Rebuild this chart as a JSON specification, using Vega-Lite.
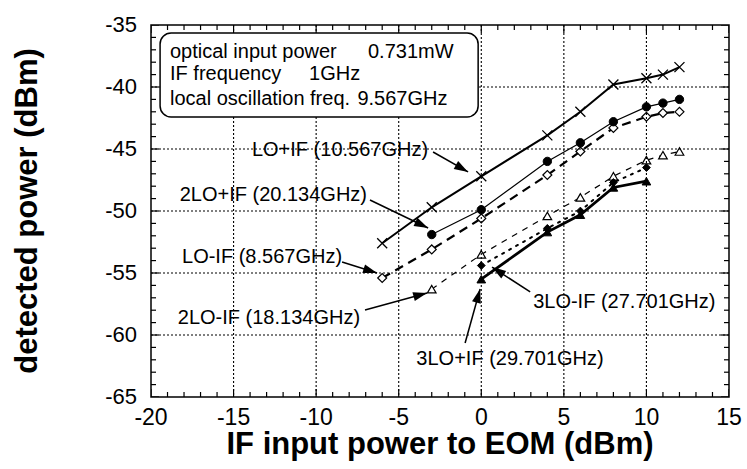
{
"$schema": "https://vega.github.io/schema/vega-lite/v6.json",
"width": 578, "height": 372,
"autosize": {"type": "none"},
"padding": {"left": 151, "top": 25, "right": 18, "bottom": 72},
"background": "white",
"config": {"view": {"stroke": "black", "strokeWidth": 1.5}, "font": "Liberation Sans"},
"datasets": {
"pts": [
{"s":"LO+IF","x":-6,"y":-52.6},{"s":"LO+IF","x":-3,"y":-49.7},{"s":"LO+IF","x":0,"y":-47.2},{"s":"LO+IF","x":4,"y":-43.9},{"s":"LO+IF","x":6,"y":-42.0},{"s":"LO+IF","x":8,"y":-39.8},{"s":"LO+IF","x":10,"y":-39.3},{"s":"LO+IF","x":11,"y":-39.0},{"s":"LO+IF","x":12,"y":-38.4},
{"s":"2LO+IF","x":-3,"y":-51.9},{"s":"2LO+IF","x":0,"y":-49.9},{"s":"2LO+IF","x":4,"y":-46.0},{"s":"2LO+IF","x":6,"y":-44.5},{"s":"2LO+IF","x":8,"y":-42.8},{"s":"2LO+IF","x":10,"y":-41.6},{"s":"2LO+IF","x":11,"y":-41.3},{"s":"2LO+IF","x":12,"y":-41.0},
{"s":"LO-IF","x":-6,"y":-55.4},{"s":"LO-IF","x":-3,"y":-53.1},{"s":"LO-IF","x":0,"y":-50.6},{"s":"LO-IF","x":4,"y":-47.1},{"s":"LO-IF","x":6,"y":-45.2},{"s":"LO-IF","x":8,"y":-43.3},{"s":"LO-IF","x":10,"y":-42.4},{"s":"LO-IF","x":11,"y":-42.1},{"s":"LO-IF","x":12,"y":-42.0},
{"s":"2LO-IF","x":-3,"y":-56.3},{"s":"2LO-IF","x":0,"y":-53.5},{"s":"2LO-IF","x":4,"y":-50.4},{"s":"2LO-IF","x":6,"y":-48.9},{"s":"2LO-IF","x":8,"y":-47.2},{"s":"2LO-IF","x":10,"y":-45.9},{"s":"2LO-IF","x":11,"y":-45.5},{"s":"2LO-IF","x":12,"y":-45.2},
{"s":"3LO+IF","x":0,"y":-54.4},{"s":"3LO+IF","x":4,"y":-51.4},{"s":"3LO+IF","x":6,"y":-50.0},{"s":"3LO+IF","x":8,"y":-47.7},{"s":"3LO+IF","x":10,"y":-46.5},
{"s":"3LO-IF","x":0,"y":-55.5},{"s":"3LO-IF","x":4,"y":-51.7},{"s":"3LO-IF","x":6,"y":-50.3},{"s":"3LO-IF","x":8,"y":-48.1},{"s":"3LO-IF","x":10,"y":-47.6}
],
"labels": [
{"label":"LO+IF (10.567GHz)","x":-3.22,"y":-45.08},
{"label":"2LO+IF (20.134GHz)","x":-6.92,"y":-48.71},
{"label":"LO-IF (8.567GHz)","x":-8.43,"y":-53.71},
{"label":"2LO-IF (18.134GHz)","x":-7.34,"y":-58.63},
{"label":"3LO-IF (27.701GHz)","x":3.14,"y":-57.34},
{"label":"3LO+IF (29.701GHz)","x":1.74,"y":-61.94}
],
"arrows": [
{"a":"LO+IF","x":-2.92,"y":-45.24,"x2":-0.80,"y2":-46.85},
{"a":"2LO+IF","x":-6.74,"y":-49.11,"x2":-3.22,"y2":-51.37},
{"a":"LO-IF","x":-8.43,"y":-54.11,"x2":-6.31,"y2":-55.0},
{"a":"2LO-IF","x":-7.04,"y":-57.98,"x2":-3.28,"y2":-56.61},
{"a":"3LO-IF","x":2.96,"y":-56.53,"x2":0.65,"y2":-54.52},
{"a":"3LO+IF","x":-0.98,"y":-60.65,"x2":-0.07,"y2":-56.29}
],
"boxtext": [
{"t":"optical input power","x":-18.85,"y":-37.15},{"t":"0.731mW","x":-6.86,"y":-37.15},
{"t":"IF frequency","x":-18.85,"y":-38.95},{"t":"1GHz","x":-10.43,"y":-38.95},
{"t":"local oscillation freq.","x":-18.85,"y":-40.97},{"t":"9.567GHz","x":-7.5,"y":-40.97}
],
"box": [{"x":-19.45,"x2":-0.19,"y":-35.65,"y2":-42.42}],
"titles": [{"xt":"IF input power to EOM (dBm)","yt":"detected power (dBm)"}],
"majx": [{"v":-20,"lab":"-20"},{"v":-15,"lab":"-15"},{"v":-10,"lab":"-10"},{"v":-5,"lab":"-5"},{"v":0,"lab":"0"},{"v":5,"lab":"5"},{"v":10,"lab":"10"},{"v":15,"lab":"15"}],
"majy": [{"v":-65,"lab":"-65"},{"v":-60,"lab":"-60"},{"v":-55,"lab":"-55"},{"v":-50,"lab":"-50"},{"v":-45,"lab":"-45"},{"v":-40,"lab":"-40"},{"v":-35,"lab":"-35"}],
"gridx": [{"v":-15},{"v":-10},{"v":-5},{"v":0},{"v":5},{"v":10}],
"gridy": [{"v":-60},{"v":-55},{"v":-50},{"v":-45},{"v":-40}],
"minx": [{"v":-19},{"v":-18},{"v":-17},{"v":-16},{"v":-14},{"v":-13},{"v":-12},{"v":-11},{"v":-9},{"v":-8},{"v":-7},{"v":-6},{"v":-4},{"v":-3},{"v":-2},{"v":-1},{"v":1},{"v":2},{"v":3},{"v":4},{"v":6},{"v":7},{"v":8},{"v":9},{"v":11},{"v":12},{"v":13},{"v":14}],
"miny": [{"v":-64},{"v":-63},{"v":-62},{"v":-61},{"v":-59},{"v":-58},{"v":-57},{"v":-56},{"v":-54},{"v":-53},{"v":-52},{"v":-51},{"v":-49},{"v":-48},{"v":-47},{"v":-46},{"v":-44},{"v":-43},{"v":-42},{"v":-41},{"v":-39},{"v":-38},{"v":-37},{"v":-36}]
},
"layer": [
{"data": {"name": "majx"}, "mark": {"type": "text", "align": "center", "baseline": "middle", "dy": 21, "font": "Liberation Sans", "fontSize": 23, "color": "black"},
 "encoding": {
  "x": {"field": "v", "type": "quantitative", "scale": {"domain": [-20, 15], "nice": false, "zero": false}, "axis": null},
  "y": {"datum": -65, "type": "quantitative", "scale": {"domain": [-65, -35], "nice": false, "zero": false}, "axis": null},
  "text": {"field": "lab"}}},
{"data": {"name": "majy"}, "mark": {"type": "text", "align": "right", "baseline": "middle", "dx": -14, "font": "Liberation Sans", "fontSize": 22, "color": "black"},
 "encoding": {
  "y": {"field": "v", "type": "quantitative", "scale": {"domain": [-65, -35], "nice": false, "zero": false}, "axis": null},
  "x": {"datum": -20, "type": "quantitative", "scale": {"domain": [-20, 15], "nice": false, "zero": false}, "axis": null},
  "text": {"field": "lab"}}},
{"data": {"name": "titles"}, "mark": {"type": "text", "align": "center", "baseline": "middle", "font": "Liberation Sans", "fontSize": 31, "fontWeight": "bold", "color": "black"},
 "encoding": {
  "x": {"datum": -2.5, "type": "quantitative", "scale": {"domain": [-20, 15], "nice": false, "zero": false}, "axis": null},
  "y": {"datum": -68.9, "type": "quantitative", "scale": {"domain": [-65, -35], "nice": false, "zero": false}, "axis": null},
  "text": {"field": "xt"}}},
{"data": {"name": "titles"}, "mark": {"type": "text", "align": "center", "baseline": "middle", "angle": 270, "font": "Liberation Sans", "fontSize": 31, "fontWeight": "bold", "color": "black"},
 "encoding": {
  "x": {"datum": -27.45, "type": "quantitative", "scale": {"domain": [-20, 15], "nice": false, "zero": false}, "axis": null},
  "y": {"datum": -50, "type": "quantitative", "scale": {"domain": [-65, -35], "nice": false, "zero": false}, "axis": null},
  "text": {"field": "yt"}}},
{"data": {"name": "pts"}, "transform": [{"filter": "datum.s === 'LO+IF'"}],
 "mark": {"type": "line", "stroke": "black", "strokeWidth": 2},
 "encoding": {
  "x": {"field": "x", "type": "quantitative", "scale": {"domain": [-20, 15], "nice": false, "zero": false}, "axis": null},
  "y": {"field": "y", "type": "quantitative", "scale": {"domain": [-65, -35], "nice": false, "zero": false}, "axis": null}}},
{"data": {"name": "pts"}, "transform": [{"filter": "datum.s === 'LO+IF'"}],
 "mark": {"type": "point", "shape": "M-1,-1L1,1M-1,1L1,-1", "size": 100, "filled": false, "stroke": "black", "strokeWidth": 1.3, "opacity": 1},
 "encoding": {
  "x": {"field": "x", "type": "quantitative", "scale": {"domain": [-20, 15], "nice": false, "zero": false}, "axis": null},
  "y": {"field": "y", "type": "quantitative", "scale": {"domain": [-65, -35], "nice": false, "zero": false}, "axis": null}}},
{"data": {"name": "pts"}, "transform": [{"filter": "datum.s === 'LO-IF'"}],
 "mark": {"type": "line", "stroke": "black", "strokeWidth": 2.2, "strokeDash": [9, 6]},
 "encoding": {
  "x": {"field": "x", "type": "quantitative", "scale": {"domain": [-20, 15], "nice": false, "zero": false}, "axis": null},
  "y": {"field": "y", "type": "quantitative", "scale": {"domain": [-65, -35], "nice": false, "zero": false}, "axis": null}}},
{"data": {"name": "pts"}, "transform": [{"filter": "datum.s === 'LO-IF'"}],
 "mark": {"type": "point", "shape": "diamond", "size": 80, "filled": true, "fill": "white", "stroke": "black", "strokeWidth": 1.2, "opacity": 1},
 "encoding": {
  "x": {"field": "x", "type": "quantitative", "scale": {"domain": [-20, 15], "nice": false, "zero": false}, "axis": null},
  "y": {"field": "y", "type": "quantitative", "scale": {"domain": [-65, -35], "nice": false, "zero": false}, "axis": null}}},
{"data": {"name": "pts"}, "transform": [{"filter": "datum.s === '2LO+IF'"}],
 "mark": {"type": "line", "stroke": "black", "strokeWidth": 1.2},
 "encoding": {
  "x": {"field": "x", "type": "quantitative", "scale": {"domain": [-20, 15], "nice": false, "zero": false}, "axis": null},
  "y": {"field": "y", "type": "quantitative", "scale": {"domain": [-65, -35], "nice": false, "zero": false}, "axis": null}}},
{"data": {"name": "pts"}, "transform": [{"filter": "datum.s === '2LO+IF'"}],
 "mark": {"type": "point", "shape": "circle", "size": 70, "filled": true, "fill": "black", "stroke": "black", "strokeWidth": 1, "opacity": 1},
 "encoding": {
  "x": {"field": "x", "type": "quantitative", "scale": {"domain": [-20, 15], "nice": false, "zero": false}, "axis": null},
  "y": {"field": "y", "type": "quantitative", "scale": {"domain": [-65, -35], "nice": false, "zero": false}, "axis": null}}},
{"data": {"name": "pts"}, "transform": [{"filter": "datum.s === '2LO-IF'"}],
 "mark": {"type": "line", "stroke": "black", "strokeWidth": 1.2, "strokeDash": [6, 6]},
 "encoding": {
  "x": {"field": "x", "type": "quantitative", "scale": {"domain": [-20, 15], "nice": false, "zero": false}, "axis": null},
  "y": {"field": "y", "type": "quantitative", "scale": {"domain": [-65, -35], "nice": false, "zero": false}, "axis": null}}},
{"data": {"name": "pts"}, "transform": [{"filter": "datum.s === '2LO-IF'"}],
 "mark": {"type": "point", "shape": "triangle-up", "size": 75, "filled": true, "fill": "white", "stroke": "black", "strokeWidth": 1.2, "opacity": 1},
 "encoding": {
  "x": {"field": "x", "type": "quantitative", "scale": {"domain": [-20, 15], "nice": false, "zero": false}, "axis": null},
  "y": {"field": "y", "type": "quantitative", "scale": {"domain": [-65, -35], "nice": false, "zero": false}, "axis": null}}},
{"data": {"name": "pts"}, "transform": [{"filter": "datum.s === '3LO+IF'"}],
 "mark": {"type": "line", "stroke": "black", "strokeWidth": 2, "strokeDash": [2, 6], "strokeCap": "round"},
 "encoding": {
  "x": {"field": "x", "type": "quantitative", "scale": {"domain": [-20, 15], "nice": false, "zero": false}, "axis": null},
  "y": {"field": "y", "type": "quantitative", "scale": {"domain": [-65, -35], "nice": false, "zero": false}, "axis": null}}},
{"data": {"name": "pts"}, "transform": [{"filter": "datum.s === '3LO+IF'"}],
 "mark": {"type": "point", "shape": "diamond", "size": 60, "filled": true, "fill": "black", "stroke": "black", "strokeWidth": 1, "opacity": 1},
 "encoding": {
  "x": {"field": "x", "type": "quantitative", "scale": {"domain": [-20, 15], "nice": false, "zero": false}, "axis": null},
  "y": {"field": "y", "type": "quantitative", "scale": {"domain": [-65, -35], "nice": false, "zero": false}, "axis": null}}},
{"data": {"name": "pts"}, "transform": [{"filter": "datum.s === '3LO-IF'"}],
 "mark": {"type": "line", "stroke": "black", "strokeWidth": 2.8},
 "encoding": {
  "x": {"field": "x", "type": "quantitative", "scale": {"domain": [-20, 15], "nice": false, "zero": false}, "axis": null},
  "y": {"field": "y", "type": "quantitative", "scale": {"domain": [-65, -35], "nice": false, "zero": false}, "axis": null}}},
{"data": {"name": "pts"}, "transform": [{"filter": "datum.s === '3LO-IF'"}],
 "mark": {"type": "point", "shape": "triangle-up", "size": 75, "filled": true, "fill": "black", "stroke": "black", "strokeWidth": 1, "opacity": 1},
 "encoding": {
  "x": {"field": "x", "type": "quantitative", "scale": {"domain": [-20, 15], "nice": false, "zero": false}, "axis": null},
  "y": {"field": "y", "type": "quantitative", "scale": {"domain": [-65, -35], "nice": false, "zero": false}, "axis": null}}},
{"data": {"name": "labels"}, "transform": [{"filter": {"field": "label", "oneOf": ["LO+IF (10.567GHz)", "2LO+IF (20.134GHz)", "LO-IF (8.567GHz)", "2LO-IF (18.134GHz)"]}}],
 "mark": {"type": "text", "align": "right", "baseline": "middle", "font": "Liberation Sans", "fontSize": 20, "color": "black"},
 "encoding": {
  "x": {"field": "x", "type": "quantitative", "scale": {"domain": [-20, 15], "nice": false, "zero": false}, "axis": null},
  "y": {"field": "y", "type": "quantitative", "scale": {"domain": [-65, -35], "nice": false, "zero": false}, "axis": null},
  "text": {"field": "label"}}},
{"data": {"name": "labels"}, "transform": [{"filter": {"field": "label", "oneOf": ["3LO-IF (27.701GHz)"]}}],
 "mark": {"type": "text", "align": "left", "baseline": "middle", "font": "Liberation Sans", "fontSize": 20, "color": "black"},
 "encoding": {
  "x": {"field": "x", "type": "quantitative", "scale": {"domain": [-20, 15], "nice": false, "zero": false}, "axis": null},
  "y": {"field": "y", "type": "quantitative", "scale": {"domain": [-65, -35], "nice": false, "zero": false}, "axis": null},
  "text": {"field": "label"}}},
{"data": {"name": "labels"}, "transform": [{"filter": {"field": "label", "oneOf": ["3LO+IF (29.701GHz)"]}}],
 "mark": {"type": "text", "align": "center", "baseline": "middle", "font": "Liberation Sans", "fontSize": 20, "color": "black"},
 "encoding": {
  "x": {"field": "x", "type": "quantitative", "scale": {"domain": [-20, 15], "nice": false, "zero": false}, "axis": null},
  "y": {"field": "y", "type": "quantitative", "scale": {"domain": [-65, -35], "nice": false, "zero": false}, "axis": null},
  "text": {"field": "label"}}},
{"data": {"name": "arrows"},
 "mark": {"type": "rule", "stroke": "black", "strokeWidth": 1.5},
 "encoding": {
  "x": {"field": "x", "type": "quantitative", "scale": {"domain": [-20, 15], "nice": false, "zero": false}, "axis": null},
  "y": {"field": "y", "type": "quantitative", "scale": {"domain": [-65, -35], "nice": false, "zero": false}, "axis": null},
  "x2": {"field": "x2"}, "y2": {"field": "y2"}}},
{"data": {"name": "arrows"}, "transform": [{"filter": "datum.a === 'LO+IF'"}],
 "mark": {"type": "point", "shape": "M0,0L-2.8,-0.9L-2.8,0.9Z", "size": 100, "filled": true, "fill": "black", "strokeWidth": 0, "opacity": 1, "angle": 29.7},
 "encoding": {
  "x": {"field": "x2", "type": "quantitative", "scale": {"domain": [-20, 15], "nice": false, "zero": false}, "axis": null},
  "y": {"field": "y2", "type": "quantitative", "scale": {"domain": [-65, -35], "nice": false, "zero": false}, "axis": null}}},
{"data": {"name": "arrows"}, "transform": [{"filter": "datum.a === '2LO+IF'"}],
 "mark": {"type": "point", "shape": "M0,0L-2.8,-0.9L-2.8,0.9Z", "size": 100, "filled": true, "fill": "black", "strokeWidth": 0, "opacity": 1, "angle": 25.8},
 "encoding": {
  "x": {"field": "x2", "type": "quantitative", "scale": {"domain": [-20, 15], "nice": false, "zero": false}, "axis": null},
  "y": {"field": "y2", "type": "quantitative", "scale": {"domain": [-65, -35], "nice": false, "zero": false}, "axis": null}}},
{"data": {"name": "arrows"}, "transform": [{"filter": "datum.a === 'LO-IF'"}],
 "mark": {"type": "point", "shape": "M0,0L-2.8,-0.9L-2.8,0.9Z", "size": 100, "filled": true, "fill": "black", "strokeWidth": 0, "opacity": 1, "angle": 17.4},
 "encoding": {
  "x": {"field": "x2", "type": "quantitative", "scale": {"domain": [-20, 15], "nice": false, "zero": false}, "axis": null},
  "y": {"field": "y2", "type": "quantitative", "scale": {"domain": [-65, -35], "nice": false, "zero": false}, "axis": null}}},
{"data": {"name": "arrows"}, "transform": [{"filter": "datum.a === '2LO-IF'"}],
 "mark": {"type": "point", "shape": "M0,0L-2.8,-0.9L-2.8,0.9Z", "size": 100, "filled": true, "fill": "black", "strokeWidth": 0, "opacity": 1, "angle": 344.7},
 "encoding": {
  "x": {"field": "x2", "type": "quantitative", "scale": {"domain": [-20, 15], "nice": false, "zero": false}, "axis": null},
  "y": {"field": "y2", "type": "quantitative", "scale": {"domain": [-65, -35], "nice": false, "zero": false}, "axis": null}}},
{"data": {"name": "arrows"}, "transform": [{"filter": "datum.a === '3LO-IF'"}],
 "mark": {"type": "point", "shape": "M0,0L-2.8,-0.9L-2.8,0.9Z", "size": 100, "filled": true, "fill": "black", "strokeWidth": 0, "opacity": 1, "angle": 213.3},
 "encoding": {
  "x": {"field": "x2", "type": "quantitative", "scale": {"domain": [-20, 15], "nice": false, "zero": false}, "axis": null},
  "y": {"field": "y2", "type": "quantitative", "scale": {"domain": [-65, -35], "nice": false, "zero": false}, "axis": null}}},
{"data": {"name": "arrows"}, "transform": [{"filter": "datum.a === '3LO+IF'"}],
 "mark": {"type": "point", "shape": "M0,0L-2.8,-0.9L-2.8,0.9Z", "size": 100, "filled": true, "fill": "black", "strokeWidth": 0, "opacity": 1, "angle": 285.5},
 "encoding": {
  "x": {"field": "x2", "type": "quantitative", "scale": {"domain": [-20, 15], "nice": false, "zero": false}, "axis": null},
  "y": {"field": "y2", "type": "quantitative", "scale": {"domain": [-65, -35], "nice": false, "zero": false}, "axis": null}}},
{"data": {"name": "gridx"}, "mark": {"type": "rule", "stroke": "black", "strokeWidth": 1.1, "strokeDash": [2, 2]},
 "encoding": {
  "x": {"field": "v", "type": "quantitative", "scale": {"domain": [-20, 15], "nice": false, "zero": false}, "axis": null}}},
{"data": {"name": "gridy"}, "mark": {"type": "rule", "stroke": "black", "strokeWidth": 1.1, "strokeDash": [2, 2]},
 "encoding": {
  "y": {"field": "v", "type": "quantitative", "scale": {"domain": [-65, -35], "nice": false, "zero": false}, "axis": null}}},
{"data": {"name": "majx"}, "mark": {"type": "tick", "orient": "vertical", "color": "black", "size": 16, "thickness": 1.2, "clip": true, "opacity": 1},
 "encoding": {
  "x": {"field": "v", "type": "quantitative", "scale": {"domain": [-20, 15], "nice": false, "zero": false}, "axis": null},
  "y": {"datum": -65, "type": "quantitative", "scale": {"domain": [-65, -35], "nice": false, "zero": false}, "axis": null}}},
{"data": {"name": "majx"}, "mark": {"type": "tick", "orient": "vertical", "color": "black", "size": 16, "thickness": 1.2, "clip": true, "opacity": 1},
 "encoding": {
  "x": {"field": "v", "type": "quantitative", "scale": {"domain": [-20, 15], "nice": false, "zero": false}, "axis": null},
  "y": {"datum": -35, "type": "quantitative", "scale": {"domain": [-65, -35], "nice": false, "zero": false}, "axis": null}}},
{"data": {"name": "minx"}, "mark": {"type": "tick", "orient": "vertical", "color": "black", "size": 10, "thickness": 1.2, "clip": true, "opacity": 1},
 "encoding": {
  "x": {"field": "v", "type": "quantitative", "scale": {"domain": [-20, 15], "nice": false, "zero": false}, "axis": null},
  "y": {"datum": -65, "type": "quantitative", "scale": {"domain": [-65, -35], "nice": false, "zero": false}, "axis": null}}},
{"data": {"name": "minx"}, "mark": {"type": "tick", "orient": "vertical", "color": "black", "size": 10, "thickness": 1.2, "clip": true, "opacity": 1},
 "encoding": {
  "x": {"field": "v", "type": "quantitative", "scale": {"domain": [-20, 15], "nice": false, "zero": false}, "axis": null},
  "y": {"datum": -35, "type": "quantitative", "scale": {"domain": [-65, -35], "nice": false, "zero": false}, "axis": null}}},
{"data": {"name": "majy"}, "mark": {"type": "tick", "orient": "horizontal", "color": "black", "size": 16, "thickness": 1.2, "clip": true, "opacity": 1},
 "encoding": {
  "y": {"field": "v", "type": "quantitative", "scale": {"domain": [-65, -35], "nice": false, "zero": false}, "axis": null},
  "x": {"datum": -20, "type": "quantitative", "scale": {"domain": [-20, 15], "nice": false, "zero": false}, "axis": null}}},
{"data": {"name": "majy"}, "mark": {"type": "tick", "orient": "horizontal", "color": "black", "size": 16, "thickness": 1.2, "clip": true, "opacity": 1},
 "encoding": {
  "y": {"field": "v", "type": "quantitative", "scale": {"domain": [-65, -35], "nice": false, "zero": false}, "axis": null},
  "x": {"datum": 15, "type": "quantitative", "scale": {"domain": [-20, 15], "nice": false, "zero": false}, "axis": null}}},
{"data": {"name": "miny"}, "mark": {"type": "tick", "orient": "horizontal", "color": "black", "size": 10, "thickness": 1.2, "clip": true, "opacity": 1},
 "encoding": {
  "y": {"field": "v", "type": "quantitative", "scale": {"domain": [-65, -35], "nice": false, "zero": false}, "axis": null},
  "x": {"datum": -20, "type": "quantitative", "scale": {"domain": [-20, 15], "nice": false, "zero": false}, "axis": null}}},
{"data": {"name": "miny"}, "mark": {"type": "tick", "orient": "horizontal", "color": "black", "size": 10, "thickness": 1.2, "clip": true, "opacity": 1},
 "encoding": {
  "y": {"field": "v", "type": "quantitative", "scale": {"domain": [-65, -35], "nice": false, "zero": false}, "axis": null},
  "x": {"datum": 15, "type": "quantitative", "scale": {"domain": [-20, 15], "nice": false, "zero": false}, "axis": null}}},
{"data": {"name": "box"}, "mark": {"type": "rect", "fill": "white", "stroke": "black", "strokeWidth": 1.5, "cornerRadius": 11},
 "encoding": {
  "x": {"field": "x", "type": "quantitative", "scale": {"domain": [-20, 15], "nice": false, "zero": false}, "axis": null},
  "x2": {"field": "x2"},
  "y": {"field": "y", "type": "quantitative", "scale": {"domain": [-65, -35], "nice": false, "zero": false}, "axis": null},
  "y2": {"field": "y2"}}},
{"data": {"name": "boxtext"}, "mark": {"type": "text", "align": "left", "baseline": "middle", "font": "Liberation Sans", "fontSize": 20, "color": "black"},
 "encoding": {
  "x": {"field": "x", "type": "quantitative", "scale": {"domain": [-20, 15], "nice": false, "zero": false}, "axis": null},
  "y": {"field": "y", "type": "quantitative", "scale": {"domain": [-65, -35], "nice": false, "zero": false}, "axis": null},
  "text": {"field": "t"}}}
]
}
